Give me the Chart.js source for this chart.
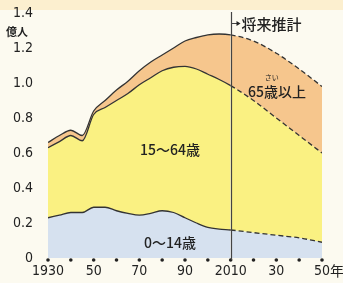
<!DOCTYPE html>
<html>
<head>
<meta charset="utf-8">
<script src="https://cdn.jsdelivr.net/npm/chart.js@4/dist/chart.umd.min.js"></script>
<style>
  html, body { margin: 0; padding: 0; background: #fcfaf0; }
  #wrap { position: relative; width: 343px; height: 283px; }
  #band { position: absolute; left: 0; top: 0; width: 343px; height: 10px; background: #fcefcf; }
  canvas { position: absolute; left: 0; top: 0; }
</style>
</head>
<body>
<div id="wrap">
  <div id="band"></div>
  <canvas id="grafico" width="343" height="283"></canvas>
</div>
<script>
/* ================= DADOS ================= */

const anos = [1930, 1935, 1940, 1945, 1950, 1955, 1960, 1965, 1970, 1975, 1980,
              1985, 1990, 1995, 2000, 2005, 2010, 2020, 2030, 2040, 2050];

// 0~14歳 (億人)
const nenshou = [0.23, 0.245, 0.26, 0.26, 0.29, 0.29, 0.27, 0.255, 0.245, 0.255, 0.27,
                 0.26, 0.23, 0.20, 0.175, 0.165, 0.16, 0.145, 0.13, 0.115, 0.09];

// 0~64歳 の累計 (15~64歳の上端)
const ate64 = [0.63, 0.665, 0.70, 0.67, 0.82, 0.86, 0.90, 0.94, 0.99, 1.03, 1.07,
               1.09, 1.095, 1.08, 1.05, 1.02, 0.985, 0.90, 0.80, 0.70, 0.60];

// 総人口 (65歳以上の上端)
const total = [0.66, 0.70, 0.73, 0.70, 0.84, 0.90, 0.96, 1.01, 1.07, 1.12, 1.16,
               1.20, 1.24, 1.26, 1.275, 1.28, 1.275, 1.24, 1.17, 1.08, 0.98];

const xTicks = { 1930: "1930", 1950: "50", 1970: "70", 1990: "90", 2010: "2010", 2030: "30", 2050: "50" };
const anoProjecao = 2010;

/* ================= UTIL ================= */

function pontos(valores) {
  return anos.map((a, i) => ({ x: a, y: valores[i] }));
}

const tracejado = {
  borderDash: ctx => ctx.p0.parsed.x >= anoProjecao ? [5, 3] : undefined
};

const FONTE_NUM = "'DejaVu Sans Condensed', 'DejaVu Sans', sans-serif";
const FONTE_JP = "'Noto Sans CJK JP', sans-serif";

/* ================= PLUGIN ================= */

const extras = {
  id: "extras",
  afterDatasetsDraw(chart) {
    const { ctx, chartArea, scales } = chart;
    const x = scales.x, y = scales.y;

    // pontos no eixo x
    ctx.save();
    ctx.fillStyle = "#222";
    x.ticks.forEach(t => {
      ctx.beginPath();
      ctx.arc(x.getPixelForValue(t.value), chartArea.bottom + 2, 1.8, 0, Math.PI * 2);
      ctx.fill();
    });

    // linha vertical 2010
    const xp = Math.round(x.getPixelForValue(anoProjecao)) + 0.5;
    ctx.strokeStyle = "#444";
    ctx.lineWidth = 1.2;
    ctx.beginPath();
    ctx.moveTo(xp, 12);
    ctx.lineTo(xp, chartArea.bottom + 2);
    ctx.stroke();

    // seta 将来推計
    ctx.lineWidth = 1;
    ctx.beginPath();
    ctx.moveTo(xp, 23.5);
    ctx.lineTo(xp + 6, 23.5);
    ctx.stroke();
    ctx.beginPath();
    ctx.moveTo(xp + 9, 23.5);
    ctx.lineTo(xp + 5, 21);
    ctx.lineTo(xp + 5, 26);
    ctx.closePath();
    ctx.fill();

    ctx.fillStyle = "#222";
    ctx.textBaseline = "middle";
    ctx.textAlign = "left";
    ctx.font = "500 15px " + FONTE_JP;
    ctx.fillText("将来推計", xp + 10, 24);

    // rótulos das faixas
    ctx.textAlign = "center";
    ctx.font = "500 14px " + FONTE_JP;
    ctx.fillText("15～64歳", x.getPixelForValue(1983.4), y.getPixelForValue(0.617));
    ctx.fillText("0～14歳", x.getPixelForValue(1983.4), y.getPixelForValue(0.09));
    ctx.fillText("65歳以上", x.getPixelForValue(2030.3), y.getPixelForValue(0.95));
    ctx.font = "7px " + FONTE_JP;
    ctx.fillText("さい", x.getPixelForValue(2028), y.getPixelForValue(1.03));

    // 億人 e 年
    ctx.font = "700 11px " + FONTE_JP;
    ctx.fillText("億人", 17, 32);
    ctx.textAlign = "left";
    ctx.font = "14px " + FONTE_JP;
    ctx.fillText("年", x.getPixelForValue(2050) + 8, 271);
    ctx.restore();
  }
};

/* ================= GRÁFICO ================= */

const linha = "#333";

new Chart(document.getElementById("grafico"), {
  type: "line",
  data: {
    datasets: [
      {
        label: "0～14歳",
        data: pontos(nenshou),
        borderColor: linha,
        borderWidth: 1.3,
        backgroundColor: "#d6e1ef",
        fill: "origin",
        pointRadius: 0,
        cubicInterpolationMode: "monotone",
        segment: tracejado
      },
      {
        label: "15～64歳",
        data: pontos(ate64),
        borderColor: linha,
        borderWidth: 1.3,
        backgroundColor: "#faf182",
        fill: "-1",
        pointRadius: 0,
        cubicInterpolationMode: "monotone",
        segment: tracejado
      },
      {
        label: "65歳以上",
        data: pontos(total),
        borderColor: linha,
        borderWidth: 1.3,
        backgroundColor: "#f6c68d",
        fill: "-1",
        pointRadius: 0,
        cubicInterpolationMode: "monotone",
        segment: tracejado
      }
    ]
  },
  options: {
    responsive: false,
    animation: false,
    layout: { padding: { top: 13, right: 21, left: 0, bottom: 0 } },
    plugins: {
      legend: { display: false },
      tooltip: { enabled: false }
    },
    scales: {
      x: {
        type: "linear",
        min: 1930,
        max: 2050,
        grid: { display: false, drawTicks: false },
        border: { display: false },
        afterFit: s => { s.height = 25; },
        ticks: {
          stepSize: 10,
          autoSkip: false,
          maxRotation: 0,
          padding: 5,
          color: "#222",
          font: { family: FONTE_NUM, size: 14 },
          callback: v => xTicks[v] || ""
        }
      },
      y: {
        min: 0,
        max: 1.4,
        grid: { drawOnChartArea: false, drawTicks: true, tickLength: 15, tickColor: "rgba(0,0,0,0)" },
        border: { display: false },
        afterFit: s => { s.width = 48; },
        ticks: {
          stepSize: 0.2,
          padding: 0,
          color: "#222",
          font: { family: FONTE_NUM, size: 14 },
          callback: v => v === 0 ? "0" : v.toFixed(1)
        }
      }
    }
  },
  plugins: [extras]
});
</script>
</body>
</html>
